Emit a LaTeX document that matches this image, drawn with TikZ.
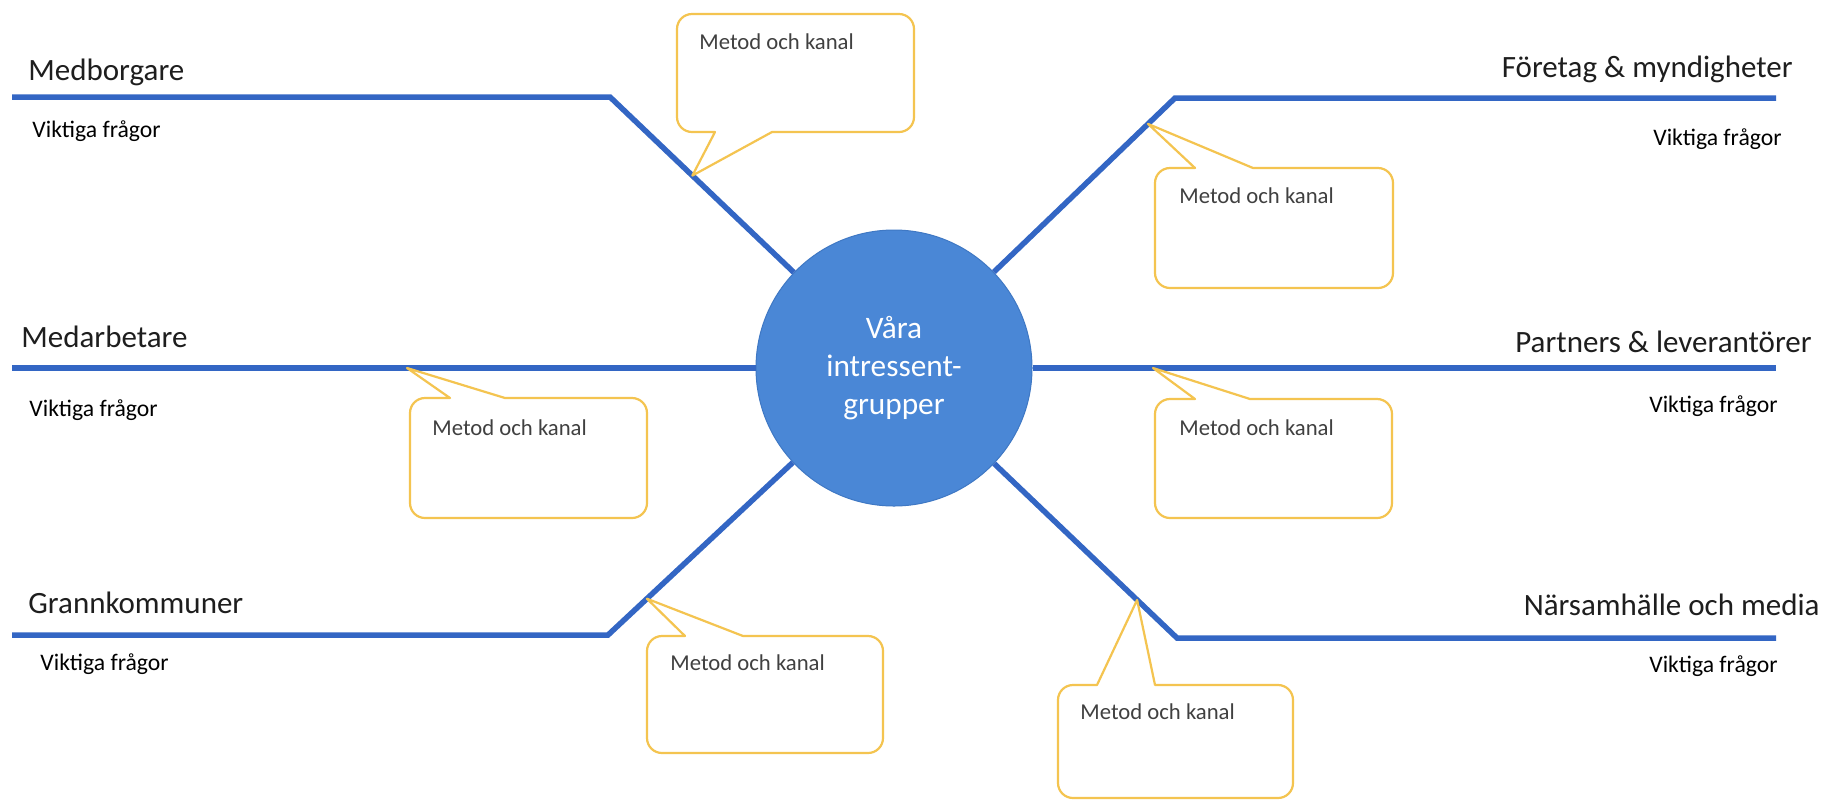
\documentclass[tikz,border=0pt]{standalone}
\usepackage{fontspec}
\setmainfont{Carlito}
\usetikzlibrary{calc}
\definecolor{linblue}{HTML}{3366C4}
\definecolor{hubblue}{HTML}{4A87D6}
\definecolor{hubedge}{HTML}{3F78C4}
\definecolor{bubgold}{HTML}{F4C450}
\definecolor{headtxt}{HTML}{1E1E1E}
\definecolor{bubtxt}{HTML}{404040}
% bubble with tail on the top edge: x1,y1,x2,y2,a,b,tip
\newcommand\bubbletop[7]{%
  \draw[bubbleline] (#1+15,#2) -- (#5,#2) -- (#7) -- (#6,#2) -- (#3-15,#2)
    arc[start angle=270,end angle=360,radius=15] -- (#3,#4-15)
    arc[start angle=0,end angle=90,radius=15] -- (#1+15,#4)
    arc[start angle=90,end angle=180,radius=15] -- (#1,#2+15)
    arc[start angle=180,end angle=270,radius=15] -- cycle;}
% bubble with tail on the bottom edge
\newcommand\bubblebot[7]{%
  \draw[bubbleline] (#1+15,#2) -- (#3-15,#2)
    arc[start angle=270,end angle=360,radius=15] -- (#3,#4-15)
    arc[start angle=0,end angle=90,radius=15] -- (#6,#4) -- (#7) -- (#5,#4) -- (#1+15,#4)
    arc[start angle=90,end angle=180,radius=15] -- (#1,#2+15)
    arc[start angle=180,end angle=270,radius=15] -- cycle;}
\begin{document}
\begin{tikzpicture}[x=0.5pt,y=-0.5pt,
  spoke/.style={draw=linblue,line width=2.75pt},
  hub/.style={circle,fill=hubblue,draw=hubedge,line width=0.5pt,minimum size=138pt,inner sep=0pt,
    text=white,align=center,font=\fontsize{15.65}{19}\selectfont},
  heading/.style={text=headtxt,inner sep=0pt,font=\fontsize{15.5}{18}\selectfont},
  question/.style={text=black,inner sep=0pt,font=\fontsize{11.85}{14}\selectfont},
  bubtext/.style={text=bubtxt,inner sep=0pt,anchor=base west,font=\fontsize{11.35}{14}\selectfont},
  bubbleline/.style={draw=bubgold,line width=1.1pt,line join=round}]
\fill[white] (0,0) rectangle (1826,800);
\useasboundingbox (0,0) rectangle (1826,800);

% hub
\node[hub] (c) at (894,368) {Våra\\intressent-\\grupper};

% line ends and knees
\coordinate (l1) at (12,97);
\coordinate (k1) at (610,97);
\coordinate (l2) at (12,368);
\coordinate (l3) at (12,635);
\coordinate (k3) at (608,635);
\coordinate (r1) at (1776,98);
\coordinate (k4) at (1175,98);
\coordinate (r2) at (1776,368);
\coordinate (r3) at (1776,638);
\coordinate (k6) at (1177,638);

\draw[spoke] (c) -- (k1) -- (l1);
\draw[spoke] (c) -- (l2);
\draw[spoke] (c) -- (k3) -- (l3);
\draw[spoke] (c) -- (k4) -- (r1);
\draw[spoke] (c) -- (r2);
\draw[spoke] (c) -- (k6) -- (r3);

% headings
\node[heading,anchor=base west] (h1) at (28,80) {Medborgare};
\node[heading,anchor=base west] (h2) at (21,347) {Medarbetare};
\node[heading,anchor=base west] (h3) at (28,613) {Grannkommuner};
\node[heading,anchor=base east] (h4) at (1793,77) {Företag \& myndigheter};
\node[heading,anchor=base east] (h5) at (1812,352) {Partners \& leverantörer};
\node[heading,anchor=base east] (h6) at (1820,615) {Närsamhälle och media};

% questions
\node[question,anchor=base west] (q1) at (32,137) {Viktiga frågor};
\node[question,anchor=base west] (q2) at (29,416) {Viktiga frågor};
\node[question,anchor=base west] (q3) at (40,670) {Viktiga frågor};
\node[question,anchor=base east] (q4) at (1782,145) {Viktiga frågor};
\node[question,anchor=base east] (q5) at (1778,412) {Viktiga frågor};
\node[question,anchor=base east] (q6) at (1778,672) {Viktiga frågor};

% tail tips on the spokes
\coordinate (t1) at ($(k1)!0.29!(c.center)$);
\coordinate (t2) at ($(k4)!0.096!(c.center)$);
\coordinate (t3) at (407,368);
\coordinate (t4) at (1153,368);
\coordinate (t5) at ($(k3)!0.136!(c.center)$);
\coordinate (t6) at ($(k6)!0.141!(c.center)$);

% callouts
\bubblebot{677}{14}{914}{132}{715}{772}{t1}
\bubbletop{1155}{168}{1393}{288}{1195}{1253}{t2}
\bubbletop{410}{398}{647}{518}{450}{505}{t3}
\bubbletop{1155}{399}{1392}{518}{1195}{1250}{t4}
\bubbletop{647}{636}{883}{753}{685}{743}{t5}
\bubbletop{1058}{685}{1293}{798}{1097}{1155}{t6}

\node[bubtext] (m1) at (699,49) {Metod och kanal};
\node[bubtext] (m2) at (1179,203) {Metod och kanal};
\node[bubtext] (m3) at (432,435) {Metod och kanal};
\node[bubtext] (m4) at (1179,435) {Metod och kanal};
\node[bubtext] (m5) at (670,670) {Metod och kanal};
\node[bubtext] (m6) at (1080,719) {Metod och kanal};
\end{tikzpicture}
\end{document}
